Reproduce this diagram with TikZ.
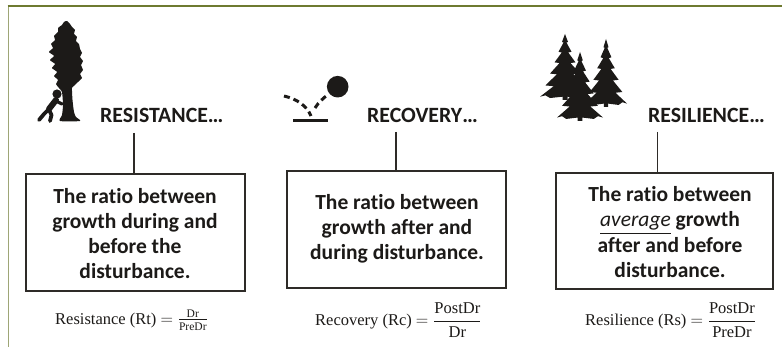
\documentclass[tikz,border=0pt]{standalone}
\usepackage{amsmath}
\usepackage{fontspec}
\newfontfamily\calibri[Ligatures={NoCommon}]{Carlito}
\newfontfamily\formulafont{Liberation Serif}
\definecolor{frameolive}{HTML}{6E7A30}
\definecolor{frameolivelight}{HTML}{9EA676}
\definecolor{ink}{HTML}{1C1A18}
\definecolor{boxline}{HTML}{2E2B28}
\tikzset{
  headtext/.style={font=\calibri\bfseries\fontsize{21.8}{25}\selectfont, text=ink, inner sep=0pt, anchor=base west},
  boxtext/.style={font=\calibri\bfseries\fontsize{21.5}{25.2}\selectfont, text=ink, align=center, inner sep=0pt},
  ratiobox/.style={draw=boxline, line width=1.5pt, inner sep=0pt},
  stemline/.style={draw=boxline, line width=1.3pt},
  formula/.style={font=\formulafont\fontsize{16.5}{19}\selectfont, text=ink, inner sep=0pt, anchor=west},
  silhouette/.style={fill=ink, draw=none},
}
% normalised spruce outline: apex at origin, base at y=1, half width 1
\newcommand{\spruceoutline}{
  (0,0) -- (0.12,0.12) -- (0.06,0.13) -- (0.26,0.27) -- (0.13,0.28) -- (0.42,0.43)
  -- (0.22,0.44) -- (0.6,0.6) -- (0.33,0.61) -- (0.78,0.78) -- (0.45,0.79) -- (1,0.95)
  -- (0.78,0.93) -- (0.6,0.97) -- (0.1,0.95) -- (0.1,1) -- (-0.1,1) -- (-0.1,0.95)
  -- (-0.6,0.97) -- (-0.78,0.93) -- (-1,0.95) -- (-0.45,0.79) -- (-0.78,0.78) -- (-0.33,0.61)
  -- (-0.6,0.6) -- (-0.22,0.44) -- (-0.42,0.43) -- (-0.13,0.28) -- (-0.26,0.27)
  -- (-0.06,0.13) -- (-0.12,0.12) -- cycle}
\begin{document}
\begin{tikzpicture}[x=1pt, y=-1pt]
\useasboundingbox (0,0) rectangle (782,347);
\fill[white] (0,0) rectangle (782,347);

% outer frame (top and left edges)
\draw[frameolivelight, line width=1.3pt] (8.5,6) -- (8.5,347);
\draw[frameolive, line width=2pt] (7.5,6) -- (782,6);

% ---------- resistance: redwood with a person pushing it ----------
\fill[silhouette] plot[smooth cycle, tension=0.4] coordinates {
  (67,21) (70,24) (72,27) (75,30) (74,34) (77,37) (76,41) (79,44) (80,49) (82,53)
  (80,57) (83,61) (81,65) (83,70) (80,74) (82,78) (78,82) (74,86) (72,88)
  (72.5,100) (74,112) (76,117) (80,121) (60,121) (62,115) (63,105) (62,92)
  (59,88) (56,84) (58,80) (54,76) (57,72) (52,68) (55,64) (50,60) (54,56)
  (49,52) (53,48) (51,44) (55,40) (54,36) (58,32) (58,28) (62,25) (64,22)};
\fill[silhouette] (57,94) circle (4.6);
\draw[ink, line width=6pt, line cap=round] (56,100) -- (49,109);
\draw[ink, line width=3.2pt, line cap=round] (56,101) -- (62,104);
\draw[ink, line width=3.8pt, line cap=round, line join=round] (49,109) -- (44,114) -- (39,120);
\draw[ink, line width=3.8pt, line cap=round, line join=round] (49,110) -- (51.5,115) -- (50,121);

% ---------- recovery: bouncing ball ----------
\fill[silhouette] (337.7,86.7) circle (10.8);
\draw[ink, line width=3pt, dash pattern=on 6pt off 4pt] (284,96) .. controls (297,99) and (307,106) .. (311,116);
\draw[ink, line width=3pt, dash pattern=on 6pt off 4pt] (315,108) .. controls (318,103) and (323,98) .. (329,94);
\draw[ink, line width=3pt] (293,121) -- (328,121);

% ---------- resilience: group of spruces ----------
\begin{scope}[shift={(565,34)}, xscale=25, yscale=66]
  \fill[silhouette] \spruceoutline;
\end{scope}
\begin{scope}[shift={(606,39)}, xscale=21, yscale=68]
  \fill[silhouette] \spruceoutline;
\end{scope}
\begin{scope}[shift={(580,52)}, xscale=23, yscale=69]
  \fill[silhouette] \spruceoutline;
\end{scope}

% ---------- headings ----------
\node[headtext] (hRt) at (100,123) {RESISTANCE…};
\node[headtext] (hRc) at (367,123) {RECOVERY…};
\node[headtext] (hRs) at (648,123) {RESILIENCE…};

% ---------- definition boxes ----------
\node[ratiobox, minimum width=219pt, minimum height=117pt] (bRt) at (135.5,232.5) {};
\node[ratiobox, minimum width=219pt, minimum height=117pt] (bRc) at (396.5,229.5) {};
\node[ratiobox, minimum width=217pt, minimum height=116pt] (bRs) at (664.5,231) {};

\node[boxtext] (tRt) at (135,233.5) {The ratio between\\growth during and\\before the\\disturbance.};
\node[boxtext] (tRc) at (397,228.5) {The ratio between\\growth after and\\during disturbance.};
\node[boxtext] (tRs) at (670,232) {The ratio between\\{\mdseries\itshape\underline{average}} growth\\after and before\\disturbance.};

% ---------- stems from headings to boxes ----------
\coordinate (sRt) at (134,133);
\coordinate (sRc) at (396,132);
\coordinate (sRs) at (657.5,132);
\draw[stemline] (sRt) -- (sRt |- bRt.north);
\draw[stemline] (sRc) -- (sRc |- bRc.north);
\draw[stemline] (sRs) -- (sRs |- bRs.north);

% ---------- formulas ----------
\node[formula] (fRt) at (55,320) {Resistance (Rt) $=\tfrac{\text{Dr}}{\text{PreDr}}$};
\node[formula] (fRc) at (315,320) {Recovery (Rc) $=\dfrac{\text{PostDr}}{\text{Dr}}$};
\node[formula] (fRs) at (585,320) {Resilience (Rs) $=\dfrac{\text{PostDr}}{\text{PreDr}}$};
\end{tikzpicture}
\end{document}
